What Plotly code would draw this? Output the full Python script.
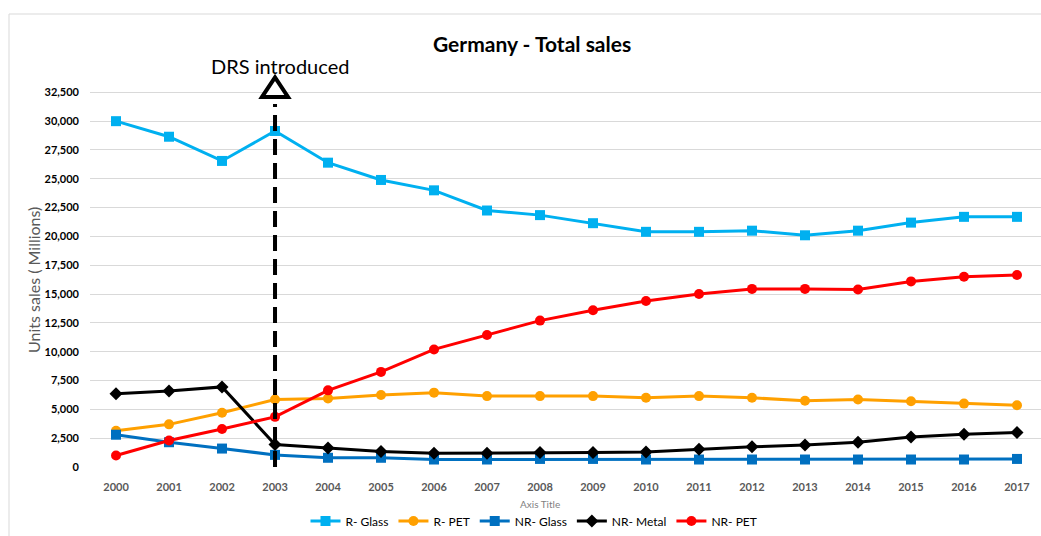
import plotly.graph_objects as go

years = list(range(2000, 2018))
r_glass = [30000, 28650, 26550, 29150, 26400, 24900, 24000, 22250, 21850, 21150,
           20400, 20400, 20500, 20100, 20500, 21200, 21700, 21700]
r_pet = [3150, 3700, 4700, 5850, 5950, 6250, 6450, 6150, 6150, 6150,
         6000, 6150, 6000, 5750, 5850, 5700, 5500, 5350]
nr_glass = [2800, 2150, 1600, 1050, 800, 800, 650, 650, 700, 700,
            650, 650, 650, 650, 650, 650, 650, 700]
nr_metal = [6350, 6600, 6950, 1950, 1650, 1350, 1200, 1200, 1250, 1250,
            1300, 1550, 1750, 1900, 2150, 2600, 2850, 3000]
nr_pet = [1000, 2300, 3300, 4350, 6650, 8250, 10200, 11450, 12700, 13600,
          14400, 15000, 15450, 15450, 15400, 16100, 16500, 16650]

y_ticks = list(range(0, 32501, 2500))
drs_year = 2003

series = [
    ("R- Glass", r_glass, "#00B0F0", "square"),
    ("R- PET", r_pet, "#FFA000", "circle"),
    ("NR- Glass", nr_glass, "#0070C0", "square"),
    ("NR- Metal", nr_metal, "#000000", "diamond"),
    ("NR- PET", nr_pet, "#FF0000", "circle"),
]

fig = go.Figure()
for name, vals, color, sym in series:
    fig.add_trace(go.Scatter(
        x=years, y=vals, name=name, mode="lines+markers",
        line=dict(color=color, width=3),
        marker=dict(symbol=sym, size=10, color=color),
    ))

FONT = "Lato, 'Open Sans', sans-serif"
W, H = 1041, 536
L, R, T, B = 90, 0, 52, 69

def px(xp):
    return (xp - L) / (W - L - R)

def py(yp):
    return (H - B - yp) / (H - T - B)

def label(x, y, text, size, color, angle=0):
    fig.add_annotation(x=px(x), y=py(y), xref="paper", yref="paper", text=text,
                       xanchor="center", yanchor="middle", textangle=angle,
                       showarrow=False, font=dict(family=FONT, size=size, color=color))

# DRS dashed line and triangle
fig.add_shape(type="line", xref="x", yref="y", x0=drs_year, x1=drs_year, y0=0, y1=31500,
              line=dict(color="black", width=4, dash="16px,8px"))
fig.add_shape(type="path", xref="x", yref="y",
              path=f"M {drs_year-0.245},32100 L {drs_year},33800 L {drs_year+0.245},32100 Z",
              line=dict(color="black", width=4), fillcolor="white")

# chart border
fig.add_shape(type="rect", xref="paper", yref="paper", x0=px(9), x1=px(1050), y0=py(560), y1=py(14),
              line=dict(color="#D9D9D9", width=1), layer="below")

label(280, 66, "DRS introduced", 20, "black")
label(532, 43, "<b>Germany - Total sales</b>", 21, "black")
label(540, 504, "Axis Title", 10, "#7F7F7F")
label(33, 280, "Units sales ( Millions)", 16, "#595959", angle=-90)

fig.update_layout(
    width=W, height=H,
    margin=dict(l=L, r=R, t=T, b=B, autoexpand=False),
    paper_bgcolor="white", plot_bgcolor="white",
    font=dict(family=FONT),
    showlegend=True,
    legend=dict(orientation="h", xref="container", yref="container",
                x=534 / W, xanchor="center", y=1 - 521 / H, yanchor="middle",
                font=dict(family=FONT, size=12, color="#000000"), itemwidth=30,
                tracegroupgap=0, bgcolor="rgba(0,0,0,0)"),
    xaxis=dict(range=[1999.509, 2017.453], tickvals=years, ticks="", showgrid=False,
               showline=False, zeroline=False, ticklabelstandoff=12, automargin=False,
               tickfont=dict(family=FONT, size=11, color="#595959", weight="bold")),
    yaxis=dict(range=[0, 36000], tickvals=y_ticks, tickformat=",", ticks="",
               showgrid=True, gridcolor="#D9D9D9", gridwidth=1, zeroline=False,
               showline=False, ticklabelstandoff=10, automargin=False,
               tickfont=dict(family=FONT, size=11, color="#000000", weight="bold")),
)

fig.write_html("out.html", config={"displayModeBar": False},
               post_script="document.body.style.margin='0';")
